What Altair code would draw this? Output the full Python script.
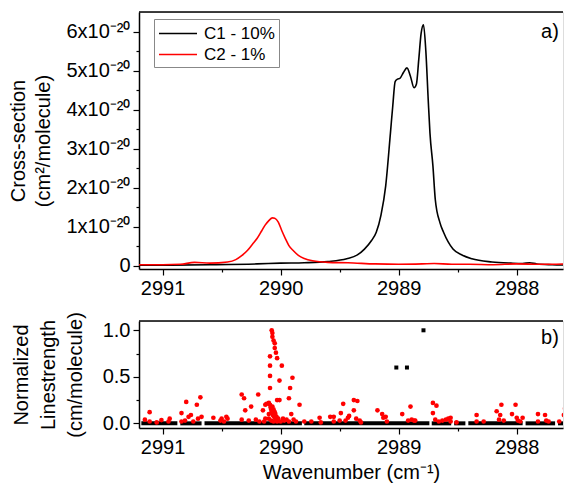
import altair as alt
import pandas as pd

# ---------------- data ----------------
series_names = ["C1 - 10%", "C2 - 1%"]

c1_wn = [2991.2, 2991.0, 2990.6, 2990.2, 2990.0, 2989.8, 2989.6, 2989.44, 2989.35, 2989.29,
         2989.23, 2989.19, 2989.15, 2989.11, 2989.07, 2989.05, 2989.03, 2989.01, 2988.99,
         2988.96, 2988.93, 2988.90, 2988.87, 2988.85, 2988.83, 2988.81, 2988.79, 2988.77,
         2988.75, 2988.735, 2988.71, 2988.69, 2988.65, 2988.62, 2988.54, 2988.46, 2988.38,
         2988.21, 2988.05, 2987.95, 2987.89, 2987.83, 2987.7, 2987.58]
c1_cs = [0.02, 0.02, 0.03, 0.05, 0.07, 0.08, 0.11, 0.18, 0.28, 0.43,
         0.65, 0.86, 1.3, 2.05, 3.4, 4.1, 4.72, 4.78, 4.8,
         4.95, 5.07, 4.85, 4.56, 4.65, 5.28, 5.95, 6.17, 5.5,
         4.26, 3.4, 2.56, 1.7, 1.1, 0.86, 0.43, 0.27, 0.18,
         0.1, 0.07, 0.06, 0.08, 0.05, 0.03, 0.02]

c2_wn = [2991.2, 2991.0, 2990.85, 2990.73, 2990.6, 2990.45, 2990.38, 2990.33, 2990.28,
         2990.24, 2990.2, 2990.16, 2990.13, 2990.1, 2990.07, 2990.05, 2990.02, 2989.99,
         2989.96, 2989.93, 2989.89, 2989.85, 2989.8, 2989.73, 2989.6, 2989.43, 2989.2,
         2989.0, 2988.8, 2988.7, 2988.55, 2988.4, 2988.2, 2988.0, 2987.8, 2987.58]
c2_cs = [0.03, 0.03, 0.04, 0.09, 0.07, 0.1, 0.16, 0.26, 0.4,
         0.55, 0.7, 0.9, 1.05, 1.16, 1.23, 1.22, 1.12, 0.9,
         0.7, 0.52, 0.38, 0.27, 0.19, 0.13, 0.09, 0.08, 0.05,
         0.04, 0.05, 0.06, 0.04, 0.04, 0.03, 0.05, 0.04, 0.05]

red_wn = [2991.15, 2991.11, 2991.11, 2991.05, 2991.01, 2990.95, 2990.94, 2990.84, 2990.84, 2990.81,
          2990.80, 2990.78, 2990.76, 2990.74, 2990.71, 2990.70, 2990.68, 2990.67, 2990.57, 2990.51,
          2990.50, 2990.48, 2990.46, 2990.45,
          2990.33, 2990.31, 2990.30, 2990.33, 2990.27, 2990.25, 2990.19, 2990.21, 2990.18, 2990.15,
          2990.14, 2990.12, 2990.13,
          2990.076, 2990.07, 2990.07, 2990.06, 2990.05, 2990.05, 2990.04, 2990.03, 2989.99, 2990.09,
          2990.09, 2990.09, 2990.09, 2990.01, 2989.90, 2989.92, 2989.93, 2990.03, 2990.01, 2990.10,
          2990.13,
          2990.09, 2990.085, 2990.08, 2990.075, 2990.07, 2990.065, 2990.06, 2990.05, 2990.04, 2990.03,
          2990.07, 2990.06, 2990.05, 2990.045, 2990.035, 2990.02, 2990.10, 2990.10, 2990.08, 2990.0,
          2990.06, 2989.98, 2989.97,
          2989.84, 2989.91, 2989.95, 2989.93, 2989.89, 2989.87, 2989.80, 2989.74, 2989.67, 2989.66,
          2989.58, 2989.55, 2989.55, 2989.49, 2989.50, 2989.47, 2989.45, 2989.43, 2989.42, 2989.38,
          2989.35, 2989.38, 2989.36, 2989.33, 2989.32, 2989.18, 2989.14, 2989.13, 2989.11, 2989.10,
          2988.97, 2988.90, 2988.92, 2988.89, 2988.87, 2988.86,
          2988.71, 2988.68, 2988.71, 2988.69, 2988.66, 2988.63, 2988.60, 2988.58, 2988.56, 2988.56,
          2988.51, 2988.34, 2988.34, 2988.28, 2988.17, 2988.13, 2988.14, 2988.15, 2988.11, 2988.04,
          2988.01, 2988.00, 2987.99, 2987.97, 2987.95, 2987.82, 2987.82, 2987.76, 2987.75, 2987.73,
          2987.64, 2987.60, 2987.59]
red_s = [0.04, 0.12, 0.02, 0.01, 0.035, 0.02, 0.05, 0.11, 0.02, 0.03,
         0.23, 0.07, 0.09, 0.02, 0.20, 0.05, 0.28, 0.07, 0.06, 0.03,
         0.05, 0.02, 0.07, 0.05,
         0.31, 0.27, 0.14, 0.04, 0.03, 0.18, 0.31, 0.04, 0.02, 0.14,
         0.02, 0.21, 0.05,
         1.0, 0.97, 0.93, 0.89, 0.86, 0.81, 0.76, 0.70, 0.62, 0.72,
         0.62, 0.51, 0.38, 0.46, 0.49, 0.38, 0.27, 0.25, 0.25, 0.22,
         0.20,
         0.20, 0.17, 0.15, 0.13, 0.11, 0.09, 0.08, 0.06, 0.04, 0.02,
         0.18, 0.15, 0.12, 0.10, 0.07, 0.05, 0.10, 0.05, 0.03, 0.02,
         0.02, 0.05, 0.03,
         0.20, 0.10, 0.04, 0.02, 0.04, 0.02, 0.02, 0.02, 0.06, 0.01,
         0.07, 0.07, 0.02, 0.11, 0.03, 0.21, 0.03, 0.06, 0.08, 0.25,
         0.24, 0.14, 0.05, 0.03, 0.01, 0.14, 0.10, 0.06, 0.07, 0.02,
         0.10, 0.18, 0.03, 0.04, 0.03, 0.03,
         0.22, 0.19, 0.11, 0.04, 0.02, 0.03, 0.04, 0.05, 0.06, 0.02,
         0.01, 0.09, 0.02, 0.02, 0.13, 0.20, 0.09, 0.04, 0.03, 0.10,
         0.20, 0.06, 0.03, 0.02, 0.06, 0.10, 0.02, 0.09, 0.03, 0.02,
         0.02, 0.09, 0.16]

black_wn = [2989.02, 2988.93, 2988.79]
black_s = [0.6, 0.6, 1.0]
# runs of densely packed black points lying at zero strength
black_run_start = [2991.18, 2990.85, 2990.645, 2989.80, 2988.72, 2988.53, 2988.41, 2987.925, 2987.65]
black_run_end = [2990.875, 2990.67, 2989.82, 2988.74, 2988.555, 2988.435, 2987.95, 2987.675, 2987.59]

x_major = [2991, 2990, 2989, 2988]
x_minor = [2990.5, 2989.5, 2988.5]
y_top_major = [0, 1, 2, 3, 4, 5, 6]
y_top_minor = [0.5, 1.5, 2.5, 3.5, 4.5, 5.5]
y_bot_major = [0.0, 0.5, 1.0]
y_bot_minor = [0.25, 0.75]

# ---------------- chart ----------------
FONT = "Liberation Sans"
W = 424
H_TOP = 257
H_BOT = 107
XDOM = [2987.608, 2991.2]

lines_df = pd.concat([
    pd.DataFrame({"wn": c1_wn, "cs": c1_cs, "series": series_names[0]}),
    pd.DataFrame({"wn": c2_wn, "cs": c2_cs, "series": series_names[1]}),
])
red_df = pd.DataFrame({"wn": red_wn, "s": red_s})
black_df = pd.DataFrame({"wn": black_wn, "s": black_s})
runs_df = pd.DataFrame({"a": black_run_start, "b": black_run_end})

common = dict(grid=False, tickColor="black", tickWidth=1.2, labelFont=FONT, labelFontSize=20,
              labelColor="black", titleFont=FONT, titleFontSize=20, titleFontWeight="normal",
              titleColor="black")


def major_x(title):
    kw = dict(common, values=x_major, format="d", tickSize=6, labelPadding=3,
              domainColor="black", domainWidth=1.5, orient="bottom")
    if title:
        kw.update(title=title, titlePadding=5)
    else:
        kw.update(title=None)
    return alt.Axis(**kw)


def minor_axis(values, orient):
    return alt.Axis(values=values, labels=False, domain=False, tickSize=3, tickColor="black",
                    tickWidth=1.2, grid=False, title=None, orient=orient)


xscale = alt.Scale(domain=XDOM, reverse=True, nice=False, zero=False)
yscale_top = alt.Scale(domain=[-0.08, 6.5], nice=False, zero=False)
yscale_bot = alt.Scale(domain=[-0.05, 1.1], nice=False, zero=False)

y_top_axis = alt.Axis(
    **common, values=y_top_major, orient="left",
    labelExpr="datum.value == 0 ? '0' : format(datum.value, 'd') + 'x10⁻²⁰'",
    tickSize=6, labelPadding=3, domainColor="black", domainWidth=1.5,
    title=["Cross-section", "(cm²/molecule)"], titlePadding=12, titleLineHeight=25,
)

top_lines = alt.Chart(lines_df).mark_line(strokeWidth=1.6, interpolate="monotone", clip=True).encode(
    x=alt.X("wn:Q", scale=xscale, axis=major_x(None)),
    y=alt.Y("cs:Q", scale=yscale_top, axis=y_top_axis),
    color=alt.Color("series:N", scale=alt.Scale(domain=series_names, range=["black", "#ff0000"]),
                    legend=alt.Legend(title=None, orient="none", legendX=15, legendY=7,
                                      symbolType="M-1,0H3", symbolSize=361, symbolStrokeWidth=1.6,
                                      labelFont=FONT, labelFontSize=17, labelColor="black",
                                      strokeColor="#888888", padding=4, rowPadding=2,
                                      labelOffset=25)),
    order=alt.Order("wn:Q"),
)
top_minor = alt.Chart(lines_df).mark_point(opacity=0, size=1, clip=True).encode(
    x=alt.X("wn:Q", scale=xscale, axis=minor_axis(x_minor, "bottom")),
    y=alt.Y("cs:Q", scale=yscale_top, axis=minor_axis(y_top_minor, "left")),
)

top_frame = alt.Chart(pd.DataFrame({"k": [0]})).mark_rule(color="black", strokeWidth=1.5).encode(
    x=alt.value(0), x2=alt.value(W), y=alt.value(0))
a_label = alt.Chart(pd.DataFrame({"k": [0]})).mark_text(
    font=FONT, fontSize=20, color="black", align="center", baseline="middle").encode(
    x=alt.value(411), y=alt.value(20), text=alt.value("a)"))

top = alt.layer(top_lines, top_minor, top_frame, a_label).resolve_axis(
    x="independent", y="independent").properties(width=W, height=H_TOP)

y_bot_axis = alt.Axis(
    **common, values=y_bot_major, orient="left", format=".1f",
    tickSize=6, labelPadding=3, domainColor="black", domainWidth=1.5,
    title=["Normalized", "Linestrength", "(cm/molecule)"], titlePadding=17, titleLineHeight=27,
)

runs = alt.Chart(runs_df).mark_rule(color="black", strokeWidth=4, clip=True).encode(
    x=alt.X("a:Q", scale=xscale, axis=major_x("Wavenumber (cm⁻¹)")),
    x2="b:Q",
    y=alt.Y(datum=0, scale=yscale_bot, axis=y_bot_axis),
)
bot_minor = alt.Chart(red_df).mark_point(opacity=0, size=1, clip=True).encode(
    x=alt.X("wn:Q", scale=xscale, axis=minor_axis(x_minor, "bottom")),
    y=alt.Y("s:Q", scale=yscale_bot, axis=minor_axis(y_bot_minor, "left")),
)
blacks = alt.Chart(black_df).mark_square(color="black", size=16, opacity=1, clip=True).encode(
    x=alt.X("wn:Q", scale=xscale, axis=None),
    y=alt.Y("s:Q", scale=yscale_bot, axis=None),
)
reds = alt.Chart(red_df).mark_circle(color="#ff0000", size=22, opacity=1, clip=True).encode(
    x=alt.X("wn:Q", scale=xscale, axis=None),
    y=alt.Y("s:Q", scale=yscale_bot, axis=None),
)
bot_frame = alt.Chart(pd.DataFrame({"k": [0]})).mark_rule(color="black", strokeWidth=1.5).encode(
    x=alt.value(0), x2=alt.value(W), y=alt.value(0))
b_label = alt.Chart(pd.DataFrame({"k": [0]})).mark_text(
    font=FONT, fontSize=20, color="black", align="center", baseline="middle").encode(
    x=alt.value(411), y=alt.value(17), text=alt.value("b)"))

bottom = alt.layer(runs, bot_minor, blacks, reds, bot_frame, b_label).resolve_axis(
    x="independent", y="independent").properties(width=W, height=H_BOT)

chart = alt.vconcat(top, bottom, spacing=12).properties(
    padding={"left": 0, "top": 2, "right": 0, "bottom": 0}
).configure_view(stroke=None).configure(background="white")

chart.save("out.html", embed_options={"renderer": "svg", "actions": False})
